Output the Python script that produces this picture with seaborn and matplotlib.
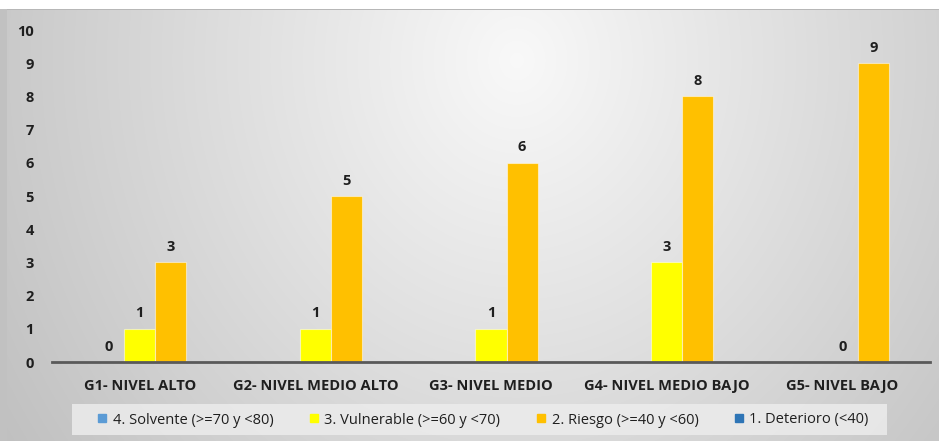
import numpy as np
import pandas as pd
import seaborn as sns
import matplotlib.pyplot as plt
from matplotlib.lines import Line2D
from matplotlib.patches import Rectangle

CATEGORIES = ["G1- NIVEL ALTO", "G2- NIVEL MEDIO ALTO", "G3- NIVEL MEDIO",
              "G4- NIVEL MEDIO BAJO", "G5- NIVEL BAJO"]
SOLVENTE = [0, np.nan, np.nan, np.nan, np.nan]
VULNERABLE = [1, 1, 1, 3, 0]
RIESGO = [3, 5, 6, 8, 9]
DETERIORO = [np.nan, np.nan, np.nan, np.nan, np.nan]

SERIES = ["4. Solvente (>=70 y <80)", "3. Vulnerable (>=60 y <70)",
          "2. Riesgo (>=40 y <60)", "1. Deterioro (<40)"]
COLORS = ["#5B9BD5", "#FFFF00", "#FFC000", "#2E75B6"]
Y_TICKS = list(range(0, 11))

TEXT_COLOR = "#1f1f1f"
W, H = 939, 441


def build_frame():
    rows = []
    for name, vals in zip(SERIES, [SOLVENTE, VULNERABLE, RIESGO, DETERIORO]):
        for cat, v in zip(CATEGORIES, vals):
            rows.append({"grupo": cat, "serie": name, "valor": v})
    return pd.DataFrame(rows).dropna()


def draw_background(fig):
    bg = fig.add_axes([0, 0, 1, 1], zorder=-10)
    yy, xx = np.mgrid[0:H, 0:W]
    d = np.sqrt(((xx - 0.55 * W) / 500.0) ** 2 + ((yy - 60) / 560.0) ** 2)
    val = np.clip(0.975 - 0.18 * d, 0, 1)
    val[:9, :] = 1.0
    val[9, :] = 0.72
    val[9:, :7] = 0.76
    img = np.dstack([val, val, val])
    bg.imshow(img, aspect="auto", interpolation="bilinear")
    bg.axis("off")


def main():
    sns.set_theme(style="white")
    plt.rcParams["font.family"] = ["Open Sans", "DejaVu Sans"]

    df = build_frame()
    fig = plt.figure(figsize=(W / 100, H / 100), dpi=100)
    draw_background(fig)

    ax = fig.add_axes([52 / W, (H - 362) / H, 878 / W, 332 / H])
    ax.patch.set_alpha(0)

    sns.barplot(data=df, x="grupo", y="valor", hue="serie",
                order=CATEGORIES, hue_order=SERIES[:3], palette=COLORS[:3],
                saturation=1, width=0.53, gap=0, dodge=True, errorbar=None,
                edgecolor=(1, 1, 1, 0.5), linewidth=0.8, legend=False, ax=ax)

    for cont in ax.containers:
        ax.bar_label(cont, fmt="%d", padding=6, fontsize=10.5, fontweight="bold",
                     color=TEXT_COLOR)

    ax.set_ylim(0, 10)
    ax.set_yticks(Y_TICKS)
    ax.set_xlim(-0.5, len(CATEGORIES) - 0.5)
    ax.set_xlabel("")
    ax.set_ylabel("")
    for side in ["top", "right", "left"]:
        ax.spines[side].set_visible(False)
    ax.spines["bottom"].set_color("#595959")
    ax.spines["bottom"].set_linewidth(2)
    ax.tick_params(axis="both", length=0, labelsize=10.5, colors=TEXT_COLOR)
    ax.tick_params(axis="y", pad=13)
    ax.tick_params(axis="x", pad=12)
    for lab in ax.get_xticklabels() + ax.get_yticklabels():
        lab.set_fontweight("bold")
    ax.grid(False)

    # legend box drawn separately so the entries can stay centred inside it
    fig.patches.append(Rectangle((72 / W, (H - 435) / H), 815 / W, 31 / H,
                                 transform=fig.transFigure, facecolor="#ececec",
                                 edgecolor="none", alpha=0.85, zorder=1))
    handles = [Line2D([], [], marker="s", linestyle="none", markersize=6,
                      markerfacecolor=c, markeredgecolor=c) for c in COLORS]
    leg = fig.legend(handles, SERIES, ncol=4, loc="center",
                     bbox_to_anchor=(482 / W, (H - 420) / H),
                     frameon=False, fontsize=10.5,
                     handletextpad=0.2, columnspacing=2.3, handlelength=1.0)
    for t in leg.get_texts():
        t.set_color(TEXT_COLOR)

    fig.savefig("out.png", dpi=100)


if __name__ == "__main__":
    main()
